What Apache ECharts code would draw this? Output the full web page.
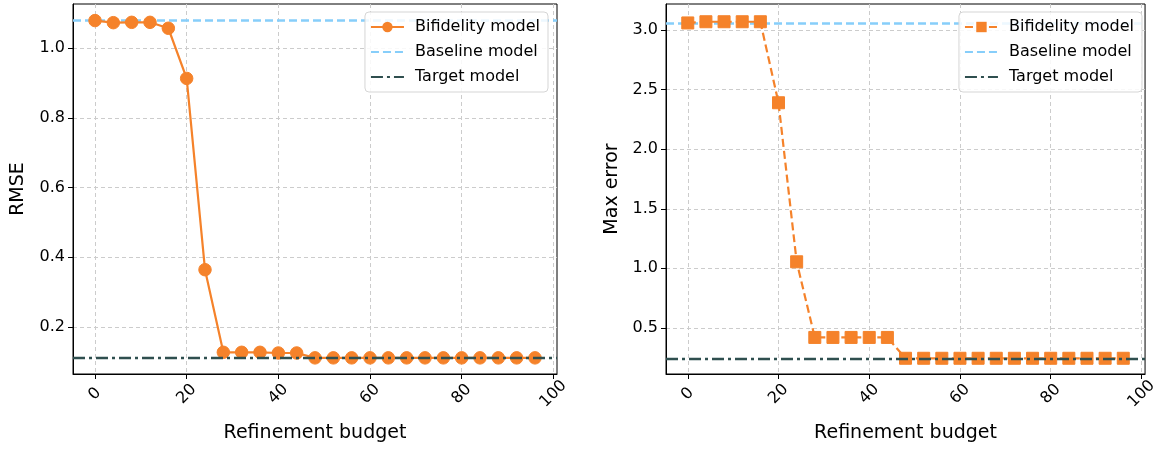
<!DOCTYPE html>
<html>
<head>
<meta charset="utf-8">
<script src="https://cdn.jsdelivr.net/npm/echarts@6/dist/echarts.min.js"></script>
<style>
  html, body { margin: 0; padding: 0; background: #fff; }
  #left { position: absolute; left: 0; top: 0; width: 580px; height: 449px; }
  #right { position: absolute; left: 580px; top: 0; width: 580px; height: 449px; }
</style>
</head>
<body>
<div id="left"></div>
<div id="right"></div>
<script>
// ---- data ----
const budgets = [0, 4, 8, 12, 16, 20, 24, 28, 32, 36, 40, 44, 48, 52, 56, 60, 64, 68, 72, 76, 80, 84, 88, 92, 96];
const rmseBifidelity = [1.079, 1.073, 1.074, 1.074, 1.057, 0.913, 0.364, 0.127, 0.127, 0.127, 0.125, 0.125,
  0.111, 0.111, 0.111, 0.111, 0.111, 0.111, 0.111, 0.111, 0.111, 0.111, 0.111, 0.111, 0.111];
const rmseBaseline = 1.078;
const rmseTarget = 0.111;
const maxErrBifidelity = [3.06, 3.07, 3.07, 3.07, 3.07, 2.39, 1.055, 0.42, 0.42, 0.42, 0.42, 0.42,
  0.245, 0.245, 0.245, 0.245, 0.245, 0.245, 0.245, 0.245, 0.245, 0.245, 0.245, 0.245, 0.245];
const maxErrBaseline = 3.065;
const maxErrTarget = 0.245;
const xTicks = [0, 20, 40, 60, 80, 100];
const yTicksRmse = [0.2, 0.4, 0.6, 0.8, 1.0];
const yTicksMaxErr = [0.5, 1.0, 1.5, 2.0, 2.5, 3.0];
const seriesNames = ['Bifidelity model', 'Baseline model', 'Target model'];
const xLabel = 'Refinement budget';

// ---- styling ----
const FONT = 'DejaVu Sans';
const ORANGE = '#f5822a';
const BLUE = '#87cefa';
const DARK = '#2f4f4f';
const gridLine = { show: true, lineStyle: { color: '#cccccc', type: [4, 3], width: 1 } };
const hiddenSymbol = { opacity: 0, color: 'transparent', borderColor: 'transparent', borderWidth: 0 };

function makeOption(cfg) {
  return {
    animation: false,
    textStyle: { fontFamily: FONT },
    grid: {
      left: cfg.gridLeft, right: cfg.gridRight, top: 4, bottom: 75,
      show: true, borderColor: '#000', borderWidth: 1, backgroundColor: 'transparent'
    },
    legend: {
      orient: 'vertical', right: cfg.legendRight, top: 12,
      data: [
        { name: seriesNames[0] },
        { name: seriesNames[1], itemStyle: hiddenSymbol },
        { name: seriesNames[2], itemStyle: hiddenSymbol }
      ],
      itemWidth: 33, itemHeight: 13, itemGap: 9,
      padding: [7, 8, 7, 5],
      backgroundColor: 'rgba(255,255,255,0.85)',
      borderColor: '#d5d5d5', borderWidth: 1, borderRadius: 4,
      textStyle: { fontFamily: FONT, fontSize: 16, color: '#000', padding: [0, 0, 0, 6] }
    },
    xAxis: {
      type: 'value', min: -4.8, max: 100.8,
      name: xLabel, nameLocation: 'middle', nameGap: 50,
      nameTextStyle: { fontFamily: FONT, fontSize: 19, color: '#000' },
      axisLine: { show: true, onZero: false, lineStyle: { color: '#000', width: 1 } },
      axisTick: { show: true, length: 5, lineStyle: { color: '#000' }, customValues: xTicks },
      axisLabel: {
        customValues: xTicks, rotate: 45, align: 'center', verticalAlign: 'middle',
        margin: 20, fontFamily: FONT, fontSize: 16, color: '#000',
        formatter: v => String(Math.round(v))
      },
      splitLine: Object.assign({ customValues: xTicks }, gridLine)
    },
    yAxis: {
      type: 'value', min: cfg.yMin, max: cfg.yMax,
      name: cfg.yName, nameLocation: 'middle', nameGap: cfg.yNameGap,
      nameTextStyle: { fontFamily: FONT, fontSize: 19, color: '#000' },
      axisLine: { show: true, onZero: false, lineStyle: { color: '#000', width: 1 } },
      axisTick: { show: true, length: 5, lineStyle: { color: '#000' }, customValues: cfg.yTicks },
      axisLabel: {
        customValues: cfg.yTicks, margin: 8, fontFamily: FONT, fontSize: 16, color: '#000',
        formatter: v => v.toFixed(1)
      },
      splitLine: Object.assign({ customValues: cfg.yTicks }, gridLine)
    },
    series: [
      {
        name: seriesNames[0], type: 'line', z: 3,
        data: budgets.map((b, i) => [b, cfg.values[i]]),
        symbol: cfg.symbol, symbolSize: cfg.symbolSize,
        itemStyle: { color: ORANGE, borderColor: ORANGE, opacity: 1 },
        lineStyle: { color: ORANGE, width: 2.2, type: cfg.lineType }
      },
      {
        name: seriesNames[1], type: 'line', z: 2, data: [], symbol: 'none',
        itemStyle: { color: BLUE },
        lineStyle: { color: BLUE, width: 2.6, type: [8, 4] },
        markLine: {
          silent: true, symbol: ['none', 'none'], z: 1, label: { show: false },
          lineStyle: { color: BLUE, width: 2.6, type: [8, 4] },
          data: [{ yAxis: cfg.baseline }]
        }
      },
      {
        name: seriesNames[2], type: 'line', z: 4, data: [], symbol: 'none',
        itemStyle: { color: DARK },
        lineStyle: { color: DARK, width: 2.4, type: [12, 4, 3, 4] },
        markLine: {
          silent: true, symbol: ['none', 'none'], z: 6, label: { show: false },
          lineStyle: { color: DARK, width: 2.4, type: [12, 4, 3, 4] },
          data: [{ yAxis: cfg.target }]
        }
      }
    ]
  };
}

const leftChart = echarts.init(document.getElementById('left'), null, { renderer: 'canvas' });
leftChart.setOption(makeOption({
  gridLeft: 73, gridRight: 23, legendRight: 32,
  yMin: 0.0647, yMax: 1.1266, yTicks: yTicksRmse,
  yName: 'RMSE', yNameGap: 45,
  values: rmseBifidelity, baseline: rmseBaseline, target: rmseTarget,
  symbol: 'circle', symbolSize: 12.5, lineType: 'solid'
}));

const rightChart = echarts.init(document.getElementById('right'), null, { renderer: 'canvas' });
rightChart.setOption(makeOption({
  gridLeft: 86, gridRight: 8, legendRight: 18,
  yMin: 0.113, yMax: 3.219, yTicks: yTicksMaxErr,
  yName: 'Max error', yNameGap: 44,
  values: maxErrBifidelity, baseline: maxErrBaseline, target: maxErrTarget,
  symbol: 'rect', symbolSize: 12, lineType: [8, 4]
}));
</script>
</body>
</html>
